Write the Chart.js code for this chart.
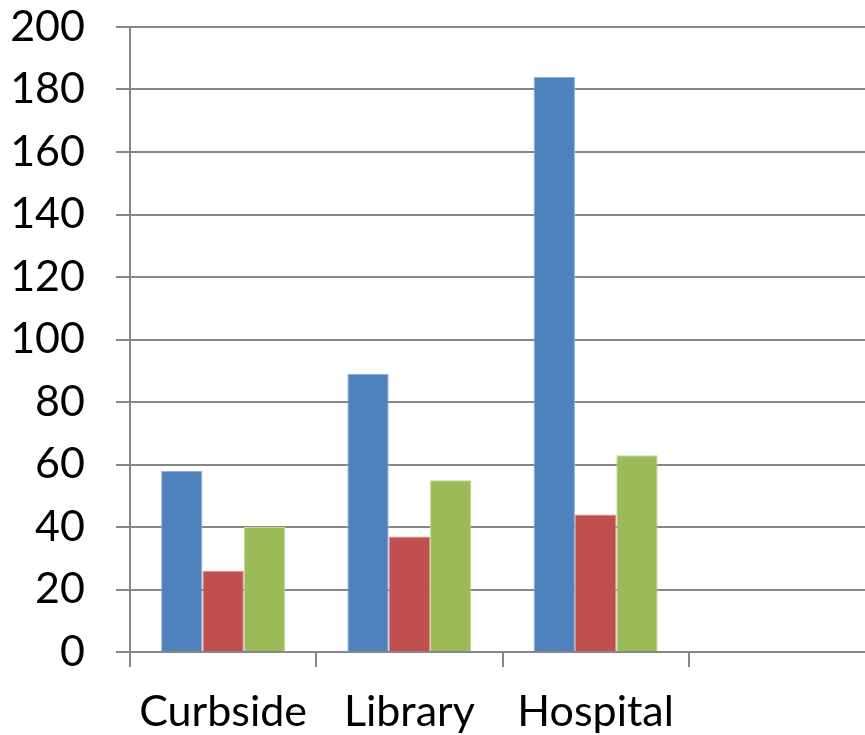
<!DOCTYPE html>
<html>
<head>
<meta charset="utf-8">
<script src="https://cdn.jsdelivr.net/npm/chart.js@4/dist/chart.umd.min.js"></script>
<style>
  html, body { margin: 0; padding: 0; background: #ffffff; overflow: hidden; }
  #wrap { position: relative; width: 876px; height: 735px; }
</style>
</head>
<body>
<div id="wrap"><canvas id="chart"></canvas></div>
<script>
// Categories along the x axis (the last slot is left empty)
const categories = ["Curbside", "Library", "Hospital", ""];

// Three series of counts per location
const seriesA = [58, 89, 184, null];
const seriesB = [26, 37, 44, null];
const seriesC = [40, 55, 63, null];

// Value axis range
const yMin = 0;
const yMax = 200;
const yStep = 20;

const axisGrey = "#878787";
const labelFont = { family: "Lato, 'Open Sans', sans-serif", size: 43 };

new Chart(document.getElementById("chart"), {
  type: "bar",
  data: {
    labels: categories,
    datasets: [
      { label: "Series 1", data: seriesA, backgroundColor: "#4f81bd", borderColor: "#8eaede", borderWidth: 1 },
      { label: "Series 2", data: seriesB, backgroundColor: "#c0504d", borderColor: "#d98c8a", borderWidth: 1 },
      { label: "Series 3", data: seriesC, backgroundColor: "#9bbb59", borderColor: "#c2d89a", borderWidth: 1 }
    ]
  },
  options: {
    responsive: true,
    maintainAspectRatio: false,
    animation: false,
    categoryPercentage: 0.666,
    barPercentage: 1.0,
    layout: { padding: { top: 0, right: 1, left: 0, bottom: 0 } },
    plugins: {
      legend: { display: false },
      tooltip: { enabled: false }
    },
    scales: {
      x: {
        offset: true,
        grid: {
          offset: true,
          drawOnChartArea: false,
          drawTicks: true,
          tickLength: 15,
          color: axisGrey,
          lineWidth: 2
        },
        border: { display: true, color: axisGrey, width: 2 },
        ticks: { color: "#000000", font: labelFont, padding: 19, maxRotation: 0, autoSkip: false },
        afterFit: (scale) => { scale.height = 83; }
      },
      y: {
        min: yMin,
        max: yMax,
        ticks: { stepSize: yStep, color: "#000000", font: labelFont, padding: 31 },
        grid: { color: axisGrey, lineWidth: 2, drawTicks: true, tickLength: 14 },
        border: { display: true, color: axisGrey, width: 2 },
        afterFit: (scale) => {
          scale.width = 130;
          // keep only room for half of the top label above the plot
          scale.paddingTop = 27;
          scale.paddingBottom = 0;
        }
      }
    }
  }
});
</script>
</body>
</html>
